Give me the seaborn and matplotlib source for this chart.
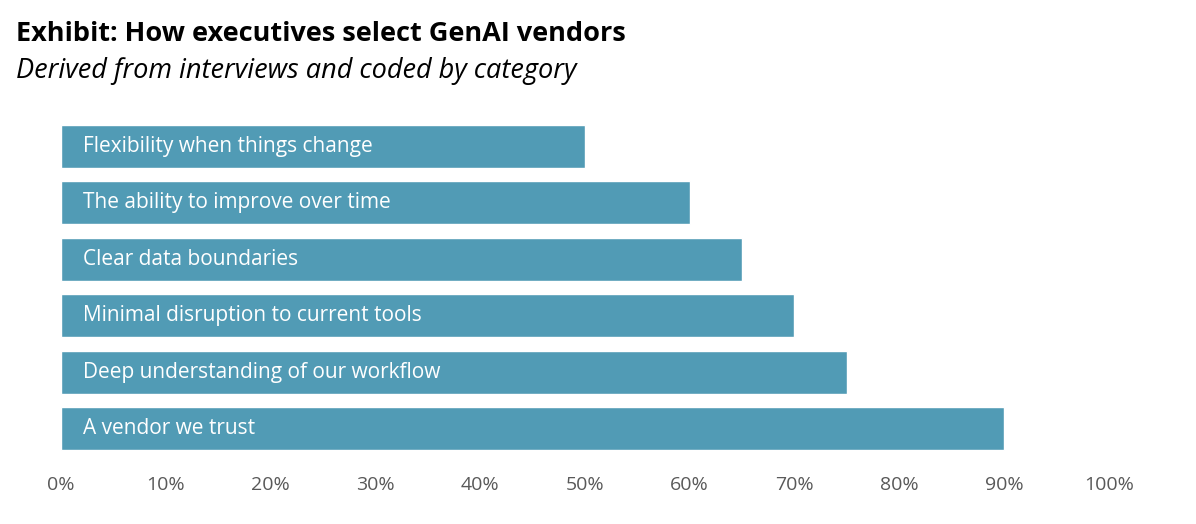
import matplotlib
matplotlib.use("Agg")
import matplotlib.pyplot as plt
import seaborn as sns
import pandas as pd
from matplotlib.ticker import PercentFormatter

categories = ["Flexibility when things change", "The ability to improve over time",
              "Clear data boundaries", "Minimal disruption to current tools",
              "Deep understanding of our workflow", "A vendor we trust"]
values = [50, 60, 65, 70, 75, 90]

df = pd.DataFrame({"category": categories, "value": values})

sns.set_theme(style="white")
plt.rcParams["font.family"] = ["Open Sans", "DejaVu Sans"]

fig = plt.figure(figsize=(11.96, 5.24), dpi=100)
ax = fig.add_axes([0.051, 0.128, 0.876, 0.647])
sns.barplot(data=df, x="value", y="category", color="#519BB5", saturation=1,
            width=0.76, ax=ax)

for i, c in enumerate(categories):
    ax.text(2.1, i, c, color="white", fontsize=15, va="center", ha="left")

ax.set_xlim(0, 100)
ax.set_ylim(5.5, -0.5)
ax.set_xticks(range(0, 101, 10))
ax.xaxis.set_major_formatter(PercentFormatter(decimals=0))
ax.tick_params(axis="x", colors="#595959", labelsize=14, length=0, pad=14)
ax.set_yticks([])
ax.set_xlabel("")
ax.set_ylabel("")
sns.despine(ax=ax, left=True, bottom=True)

fig.text(0.013, 0.935, "Exhibit: How executives select GenAI vendors",
         fontsize=19.5, fontweight="bold", color="black", va="center")
fig.text(0.013, 0.865, "Derived from interviews and coded by category",
         fontsize=19.5, fontstyle="italic", color="black", va="center")

fig.savefig("out.png", dpi=100)
